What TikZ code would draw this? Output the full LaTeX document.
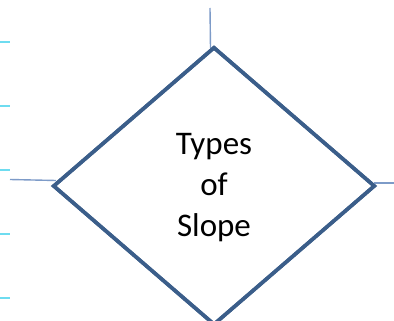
\documentclass[tikz,border=0pt]{standalone}
\usepackage{fontspec}
\setmainfont{Carlito}
\usetikzlibrary{shapes.geometric}
\definecolor{dia}{RGB}{59,94,138}
\definecolor{conn}{RGB}{125,155,200}
\definecolor{tick}{RGB}{110,220,240}
\tikzset{
  decision/.style={draw=dia, line width=3.6pt, shape=diamond, inner sep=0pt, minimum width=322pt, minimum height=278pt, line join=miter},
  connline/.style={draw=conn, line width=1.4pt},
  tickline/.style={draw=tick, line width=1.8pt},
  label/.style={font=\fontsize{33}{41}\selectfont, align=center, text=black}
}
\begin{document}
\begin{tikzpicture}[x=1pt,y=-1pt]
\useasboundingbox (0,0) rectangle (394,321);
\clip (0,0) rectangle (394,321);
\fill[white] (0,0) rectangle (394,321);
% left tick marks
\foreach \yy [count=\i] in {42,106,170,234,298} {
  \coordinate (ta\i) at (0,\yy);
  \coordinate (tb\i) at (10,\yy);
  \draw[tickline] (ta\i) -- (tb\i);
}
\node[decision] (d) at (214,186) {};
% connectors
\coordinate (topend) at (210,8);
\coordinate (topin) at (210.5,48);
\coordinate (leftend) at (10,179.5);
\coordinate (leftin) at (56,180.5);
\coordinate (rightin) at (374,183);
\coordinate (rightend) at (394,183);
\draw[connline] (topend) -- (topin);
\draw[connline] (leftend) -- (leftin);
\draw[connline] (rightin) -- (rightend);
\node[decision] (d2) at (214,186) {};
\node[label] (t) at (214,188) {Types\\of\\Slope};
\end{tikzpicture}
\end{document}
